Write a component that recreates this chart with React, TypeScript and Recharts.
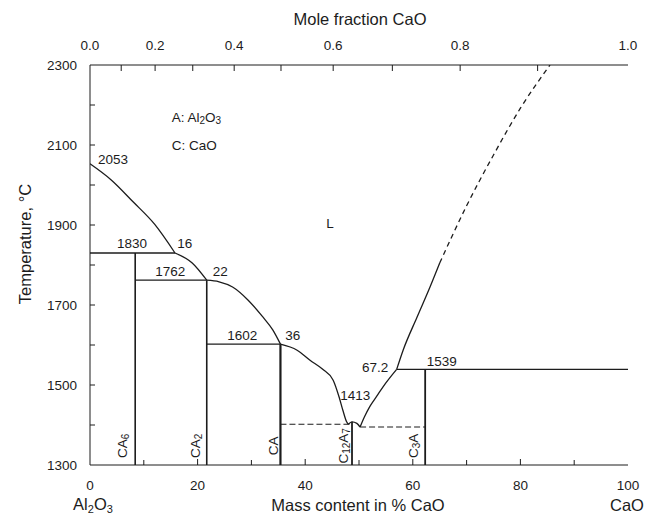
import React from 'react';
import { ComposedChart, Line, Scatter, XAxis, YAxis } from 'recharts';

const FONT = '"Liberation Sans", Arial, Helvetica, sans-serif';
const INK = '#1c1c1c';

// axes
const massTicks = [0, 10, 20, 30, 40, 50, 60, 70, 80, 90, 100];
const tempTicks = [1300, 1400, 1500, 1600, 1700, 1800, 1900, 2000, 2100, 2200, 2300];
const moleLabels = ['0.0', '', '0.2', '', '0.4', '', '0.6', '', '0.8', '', '1.0'];
// where each mole fraction falls on the mass % scale
const molePos = [0, 5.8, 12.1, 19.1, 26.8, 35.5, 45.2, 56.2, 68.8, 83.2, 100];

// liquidus branches (x = mass % CaO, T = °C)
const liqA = [
  { x: 0, T: 2053 }, { x: 4, T: 2012 }, { x: 8, T: 1958 }, { x: 12, T: 1902 }, { x: 15.8, T: 1830 },
];
const liqCA6 = [{ x: 15.8, T: 1830 }, { x: 19, T: 1805 }, { x: 21.7, T: 1762 }];
const liqCA2 = [
  { x: 21.7, T: 1762 }, { x: 24, T: 1758 }, { x: 26.5, T: 1745 }, { x: 29.4, T: 1712 },
  { x: 32, T: 1672 }, { x: 34, T: 1637 }, { x: 35.4, T: 1602 },
];
const liqCA = [
  { x: 35.4, T: 1602 }, { x: 38.5, T: 1587 }, { x: 40.9, T: 1562 }, { x: 43.2, T: 1540 },
  { x: 45.2, T: 1512 }, { x: 46.3, T: 1470 }, { x: 47, T: 1437 }, { x: 47.7, T: 1408 }, { x: 48.0, T: 1402 },
];
const liqC12A7 = [{ x: 48.0, T: 1402 }, { x: 48.7, T: 1408 }, { x: 49.6, T: 1404 }, { x: 50.2, T: 1395 }];
const liqC3A = [
  { x: 50.2, T: 1395 }, { x: 51, T: 1420 }, { x: 52, T: 1446 }, { x: 53.3, T: 1472 },
  { x: 54.5, T: 1496 }, { x: 57, T: 1539 },
];
const liqC = [{ x: 57, T: 1539 }, { x: 58.2, T: 1587 }, { x: 60.8, T: 1670 }, { x: 63.2, T: 1745 }, { x: 65, T: 1805 }];
const liqCdashed = [{ x: 65, T: 1805 }, { x: 70, T: 1948 }, { x: 75, T: 2075 }, { x: 80, T: 2192 }, { x: 85.5, T: 2300 }];

// invariant lines
const iso1830 = [{ x: 0, T: 1830 }, { x: 15.8, T: 1830 }];
const iso1762 = [{ x: 8.4, T: 1762 }, { x: 21.7, T: 1762 }];
const iso1602 = [{ x: 21.7, T: 1602 }, { x: 35.4, T: 1602 }];
const iso1402 = [{ x: 35.4, T: 1402 }, { x: 48.7, T: 1402 }];
const iso1395 = [{ x: 50.2, T: 1395 }, { x: 62.3, T: 1395 }];
const iso1539 = [{ x: 57, T: 1539 }, { x: 100, T: 1539 }];

// compounds
const lineCA6 = [{ x: 8.4, T: 1830 }, { x: 8.4, T: 1300 }];
const lineCA2 = [{ x: 21.7, T: 1762 }, { x: 21.7, T: 1300 }];
const lineCA = [{ x: 35.4, T: 1602 }, { x: 35.4, T: 1300 }];
const lineC12A7 = [{ x: 48.7, T: 1408 }, { x: 48.7, T: 1300 }];
const lineC3A = [{ x: 62.3, T: 1539 }, { x: 62.3, T: 1300 }];

// text in the plot
const notes = [
  { x: 15.2, T: 2170, text: 'A: Al_2O_3', anchor: 'start' },
  { x: 15.2, T: 2100, text: 'C: CaO', anchor: 'start' },
  { x: 44.6, T: 1905, text: 'L' },
  { x: 1.5, T: 2065, text: '2053', anchor: 'start' },
  { x: 7.8, T: 1855, text: '1830' },
  { x: 17.6, T: 1855, text: '16' },
  { x: 14.9, T: 1785, text: '1762' },
  { x: 24.2, T: 1785, text: '22' },
  { x: 28.3, T: 1625, text: '1602' },
  { x: 37.7, T: 1625, text: '36' },
  { x: 53, T: 1545, text: '67.2' },
  { x: 65.4, T: 1560, text: '1539' },
  { x: 49.3, T: 1475, text: '1413' },
  { x: 5.9, T: 1348, text: 'CA_6', rot: true },
  { x: 19.5, T: 1348, text: 'CA_2', rot: true },
  { x: 34, T: 1348, text: 'CA', rot: true },
  { x: 47, T: 1348, text: 'C_12A_7', rot: true },
  { x: 60, T: 1348, text: 'C_3A', rot: true },
];

function withSubs(s: string) {
  const parts = s.split(/_(\d+)/);
  return parts.map((p, i) =>
    i % 2 ? (
      <tspan key={i} fontSize={10} dy={3}>{p}</tspan>
    ) : (
      <tspan key={i} dy={i > 0 ? -3 : 0}>{p}</tspan>
    )
  );
}

function Note(props: any) {
  const { cx, cy, payload } = props;
  if (cx == null || cy == null) return null;
  return (
    <text
      x={cx}
      y={cy}
      textAnchor={payload.anchor ?? 'middle'}
      dominantBaseline="central"
      fontSize={13.5}
      fontFamily={FONT}
      fill={INK}
      transform={payload.rot ? `rotate(-90 ${cx} ${cy})` : undefined}
    >
      {withSubs(payload.text)}
    </text>
  );
}

const txt = { fontSize: 13.5, fontFamily: FONT, fill: INK };

function BottomTick(p: any) {
  const v = p.payload.value;
  const major = v % 20 === 0;
  return (
    <g>
      {v > 0 && v < 100 && <line x1={p.x} x2={p.x} y1={p.y} y2={p.y - (major ? 6 : 5)} stroke={INK} />}
      {major && <text x={p.x} y={p.y + 25} textAnchor="middle" {...txt}>{v}</text>}
    </g>
  );
}

function TopTick(p: any) {
  const i = molePos.indexOf(p.payload.value);
  const label = moleLabels[i] ?? '';
  const v = p.payload.value;
  return (
    <g>
      {v > 0 && v < 100 && <line x1={p.x} x2={p.x} y1={p.y} y2={p.y + 6} stroke={INK} />}
      {label && <text x={p.x} y={p.y - 15} textAnchor="middle" {...txt}>{label}</text>}
    </g>
  );
}

function LeftTick(p: any) {
  const v = p.payload.value;
  const major = v % 200 === 100;
  return (
    <g>
      {v > 1300 && v < 2300 && <line x1={p.x} x2={p.x + 5} y1={p.y} y2={p.y} stroke={INK} />}
      {major && <text x={p.x - 13} y={p.y + 5} textAnchor="end" {...txt}>{v}</text>}
    </g>
  );
}

function RightTick(p: any) {
  const v = p.payload.value;
  return v > 1300 && v < 2300 ? <line x1={p.x} x2={p.x - 5} y1={p.y} y2={p.y} stroke={INK} /> : <g />;
}

const boundary = (data: { x: number; T: number }[], key: string, opts: any = {}) => (
  <Line
    key={key}
    data={data}
    dataKey="T"
    type={opts.type ?? 'linear'}
    stroke={INK}
    strokeWidth={opts.w ?? 1.3}
    strokeDasharray={opts.dash}
    dot={false}
    activeDot={false}
    isAnimationActive={false}
    legendType="none"
  />
);

const title: React.CSSProperties = {
  position: 'absolute',
  fontFamily: FONT,
  fontSize: 16.5,
  color: INK,
  whiteSpace: 'nowrap',
  transform: 'translate(-50%, -50%)',
  lineHeight: 1,
};

export default function App() {
  document.body.style.margin = '0';
  return (
    <div style={{ position: 'relative', width: 657, height: 513, background: '#fff' }}>
      <ComposedChart width={657} height={513} margin={{ top: 0, right: 29, bottom: 0, left: 0 }}>
        <XAxis
          dataKey="x"
          type="number"
          domain={[0, 100]}
          ticks={massTicks}
          allowDataOverflow
          height={48}
          tickSize={0}
          tickMargin={0}
          tick={<BottomTick />}
          axisLine={{ stroke: INK }}
          interval={0}
        />
        <XAxis
          xAxisId="top"
          orientation="top"
          dataKey="x"
          type="number"
          domain={[0, 100]}
          ticks={molePos}
          allowDataOverflow
          height={65}
          tickSize={0}
          tickMargin={0}
          tick={<TopTick />}
          axisLine={{ stroke: INK }}
          interval={0}
        />
        <YAxis
          dataKey="T"
          type="number"
          domain={[1300, 2300]}
          ticks={tempTicks}
          allowDataOverflow
          width={90}
          tickSize={0}
          tickMargin={0}
          tick={<LeftTick />}
          axisLine={{ stroke: INK }}
          interval={0}
        />
        <YAxis
          yAxisId="right"
          orientation="right"
          type="number"
          domain={[1300, 2300]}
          ticks={tempTicks}
          allowDataOverflow
          width={0}
          tickSize={0}
          tickMargin={0}
          tick={<RightTick />}
          axisLine={{ stroke: INK }}
          interval={0}
        />
        {boundary(liqA, 'liqA', { type: 'monotone' })}
        {boundary(liqCA6, 'liqCA6', { type: 'monotone' })}
        {boundary(liqCA2, 'liqCA2', { type: 'monotone' })}
        {boundary(liqCA, 'liqCA', { type: 'monotone' })}
        {boundary(liqC12A7, 'liqC12A7', { type: 'monotone' })}
        {boundary(liqC3A, 'liqC3A', { type: 'monotone' })}
        {boundary(liqC, 'liqC', { type: 'monotone' })}
        {boundary(liqCdashed, 'liqCdashed', { type: 'monotone', dash: '5 4' })}
        {boundary(iso1830, 'iso1830')}
        {boundary(iso1762, 'iso1762')}
        {boundary(iso1602, 'iso1602')}
        {boundary(iso1402, 'iso1402', { dash: '6 3', w: 1.1 })}
        {boundary(iso1395, 'iso1395', { dash: '6 3', w: 1.1 })}
        {boundary(iso1539, 'iso1539')}
        {boundary(lineCA6, 'lineCA6', { w: 1.6 })}
        {boundary(lineCA2, 'lineCA2', { w: 1.6 })}
        {boundary(lineCA, 'lineCA', { w: 2.2 })}
        {boundary(lineC12A7, 'lineC12A7', { w: 1.8 })}
        {boundary(lineC3A, 'lineC3A', { w: 1.8 })}
        <Scatter data={notes} dataKey="T" shape={<Note />} isAnimationActive={false} legendType="none" />
      </ComposedChart>
      <div style={{ ...title, left: 360, top: 19 }}>Mole fraction CaO</div>
      <div style={{ ...title, left: 358, top: 505 }}>Mass content in % CaO</div>
      <div style={{ ...title, left: 93, top: 505 }}>
        Al<sub style={{ fontSize: 11, verticalAlign: '-3px' }}>2</sub>O<sub style={{ fontSize: 11, verticalAlign: '-3px' }}>3</sub>
      </div>
      <div style={{ ...title, left: 627, top: 505 }}>CaO</div>
      <div style={{ ...title, left: 25, top: 244, transform: 'translate(-50%, -50%) rotate(-90deg)' }}>
        Temperature, °C
      </div>
    </div>
  );
}
